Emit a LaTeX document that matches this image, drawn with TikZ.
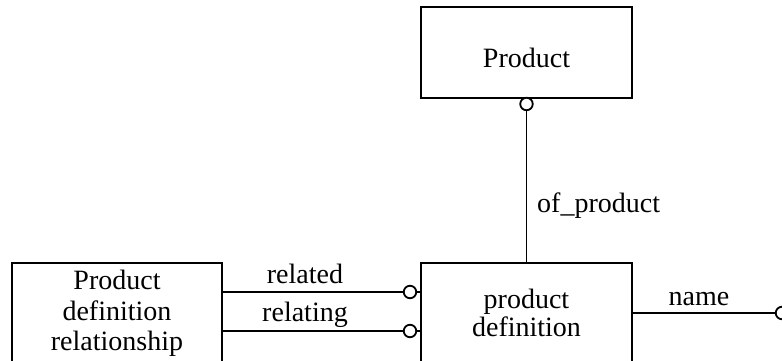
\documentclass[tikz,border=0pt]{standalone}
\usepackage{fontspec}
\setmainfont{Liberation Serif}
\begin{document}
\begin{tikzpicture}[x=1pt,y=1pt,
  entity/.style={draw, line width=1.8pt, rectangle, inner sep=0pt},
  rel/.style={line width=1.8pt},
  opt/.style={draw, line width=1.8pt, circle, fill=white, minimum size=12.5pt, inner sep=0pt},
  lbl/.style={font=\fontsize{28}{30}\selectfont, inner sep=0pt, anchor=base}]
\useasboundingbox (0,0) rectangle (782,360);
\clip (0,0) rectangle (782,360);
% entities
\node[entity, minimum width=211pt, minimum height=91pt] (prod) at (526.5,307.5) {};
\node[lbl] (prodtxt) at (526.5,293) {Product};
\node[entity, minimum width=211pt, minimum height=99pt] (pd) at (526.5,47.5) {};
\node[lbl] (pdtxta) at (526.5,52) {product};
\node[lbl] (pdtxtb) at (526.5,24) {definition};
\node[entity, minimum width=210pt, minimum height=99pt] (pdr) at (117,47.5) {};
\node[lbl] (pdrtxta) at (117,71) {Product};
\node[lbl] (pdrtxtb) at (117,40) {definition};
\node[lbl] (pdrtxtc) at (117,10) {relationship};
% optional-end circles
\node[opt] (c0) at (526.5,256) {};
\node[opt] (c1) at (410,68) {};
\node[opt] (c2) at (410,29) {};
\node[opt] (c3) at (782,47) {};
% relationships
\draw[rel] (c0) -- (pd.north -| c0);
\draw[rel] (pdr.east |- c1) -- (c1);
\draw[rel] (pdr.east |- c2) -- (c2);
\draw[rel] (pd.east |- c3) -- (c3);
\draw[rel] (c1.east) -- (pd.west |- c1);
\draw[rel] (c2.east) -- (pd.west |- c2);
% role labels
\node[lbl, anchor=base west] (ofprod) at (537,148) {of\_product};
\node[lbl] (related) at (305,77) {related};
\node[lbl] (relating) at (305,39) {relating};
\node[lbl] (name) at (699,55) {name};
\end{tikzpicture}
\end{document}
